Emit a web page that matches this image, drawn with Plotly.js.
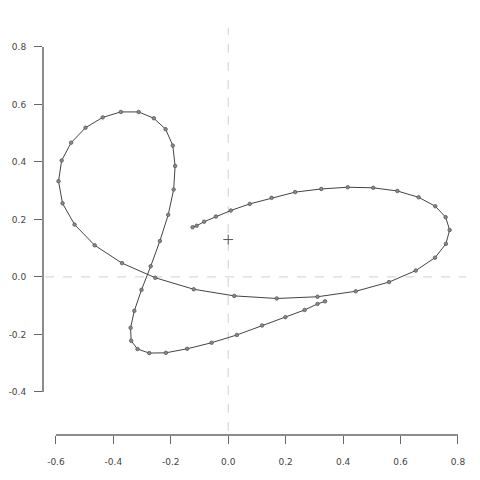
<!DOCTYPE html>
<html>
<head>
<meta charset="utf-8">
<script src="https://cdn.plot.ly/plotly-3.0.1.min.js"></script>
<style>html,body{margin:0;padding:0;background:#fff;}#chart{width:480px;height:480px;}</style>
</head>
<body>
<div id="chart"></div>
<script>
const pathX = [-0.124,-0.110,-0.084,-0.043,0.009,0.075,0.151,0.233,0.324,0.416,0.505,0.589,0.663,0.721,0.757,0.771,0.758,0.720,0.653,0.560,0.444,0.311,0.169,0.021,-0.120,-0.254,-0.370,-0.465,-0.535,-0.577,-0.591,-0.580,-0.547,-0.497,-0.437,-0.374,-0.312,-0.259,-0.218,-0.193,-0.185,-0.190,-0.209,-0.238,-0.270,-0.302,-0.327,-0.340,-0.338,-0.316,-0.275,-0.217,-0.143,-0.058,0.030,0.118,0.199,0.266,0.311,0.337];
const pathY = [0.173,0.178,0.192,0.210,0.231,0.254,0.275,0.295,0.306,0.312,0.310,0.299,0.277,0.246,0.208,0.163,0.115,0.067,0.022,-0.018,-0.050,-0.069,-0.075,-0.066,-0.043,-0.003,0.048,0.110,0.182,0.256,0.333,0.405,0.467,0.519,0.555,0.574,0.574,0.552,0.514,0.457,0.386,0.304,0.216,0.125,0.037,-0.045,-0.118,-0.177,-0.222,-0.251,-0.265,-0.264,-0.250,-0.229,-0.202,-0.169,-0.140,-0.115,-0.094,-0.085];
const centerX = [0];
const centerY = [0.13];
const xTicks = [-0.6,-0.4,-0.2,0.0,0.2,0.4,0.6,0.8];
const xTickText = ['-0.6','-0.4','-0.2','0.0','0.2','0.4','0.6','0.8'];
const yTicks = [-0.4,-0.2,0.0,0.2,0.4,0.6,0.8];
const yTickText = ['-0.4','-0.2','0.0','0.2','0.4','0.6','0.8'];

const traces = [
  {x: pathX, y: pathY, type: 'scatter', mode: 'lines+markers',
   line: {color: '#444', width: 1},
   marker: {symbol: 'circle', size: 3.5, color: '#8a8a8a', line: {color: '#555', width: 0.8}},
   hoverinfo: 'skip', showlegend: false},
  {x: centerX, y: centerY, type: 'scatter', mode: 'markers',
   marker: {symbol: 'cross-thin', size: 7, line: {color: '#555', width: 1}},
   hoverinfo: 'skip', showlegend: false}
];

const axisCol = '#666';
const layout = {
  width: 480, height: 480,
  margin: {l: 43, r: 14, t: 28, b: 45},
  paper_bgcolor: '#fff', plot_bgcolor: '#fff',
  font: {family: 'DejaVu Sans, sans-serif', size: 9, color: '#444'},
  xaxis: {range: [-0.645, 0.828], tickvals: xTicks, ticktext: xTickText,
          ticks: 'outside', ticklen: 8, tickwidth: 1, tickcolor: axisCol,
          showgrid: false, zeroline: false, showline: false, ticklabelstandoff: 10},
  yaxis: {range: [-0.55, 0.866], tickvals: yTicks, ticktext: yTickText,
          ticks: 'outside', ticklen: 8, tickwidth: 1, tickcolor: axisCol,
          showgrid: false, zeroline: false, showline: false, ticklabelstandoff: 6},
  shapes: [
    {type: 'line', xref: 'x', yref: 'paper', x0: xTicks[0], x1: xTicks[xTicks.length-1], y0: 0, y1: 0,
     line: {color: axisCol, width: 1.5}},
    {type: 'line', xref: 'paper', yref: 'y', x0: 0, x1: 0, y0: yTicks[0], y1: yTicks[yTicks.length-1],
     line: {color: axisCol, width: 1.5}},
    {type: 'line', xref: 'x', yref: 'paper', x0: 0, x1: 0, y0: 0.01, y1: 1,
     line: {color: '#d0d0d0', width: 1, dash: 'dash'}, layer: 'below'},
    {type: 'line', xref: 'paper', yref: 'y', x0: 0.005, x1: 1, y0: 0, y1: 0,
     line: {color: '#d0d0d0', width: 1, dash: 'dash'}, layer: 'below'}
  ]
};

Plotly.newPlot('chart', traces, layout, {displayModeBar: false, staticPlot: true});
</script>
</body>
</html>
